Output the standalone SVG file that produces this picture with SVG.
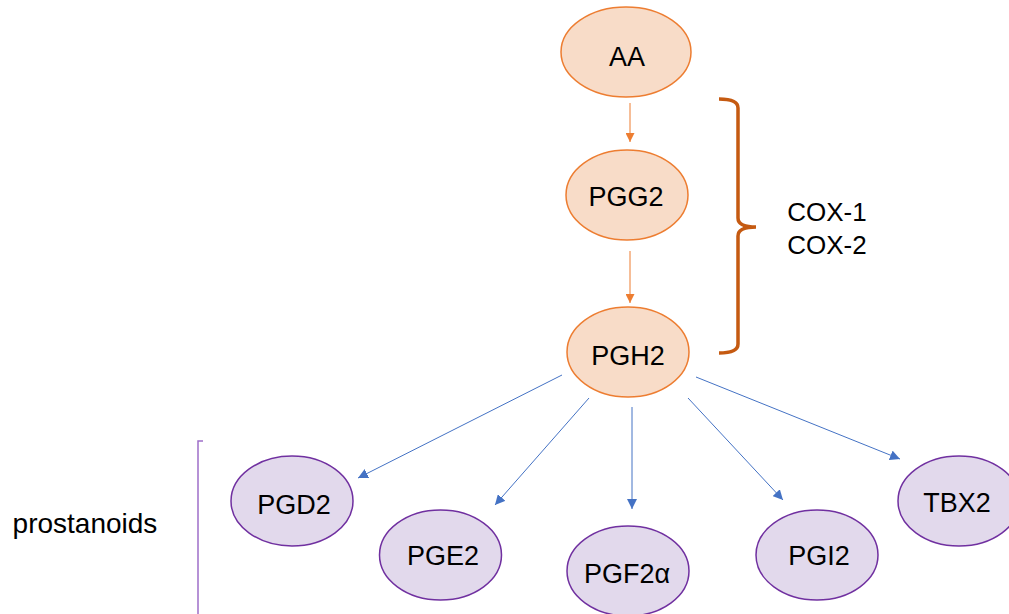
<svg xmlns="http://www.w3.org/2000/svg" width="1009" height="614" viewBox="0 0 1009 614">
<style>
.org{fill:#f8dcc8;stroke:#ed7d31;stroke-width:1.5}
.pur{fill:#e2d9ec;stroke:#7030a0;stroke-width:1.5}
text{font-family:"Liberation Sans",Arial,sans-serif;font-size:27px;fill:#000;text-anchor:middle}
.oa{stroke:#ed7d31;stroke-width:1;fill:none}
.ba{stroke:#4472c4;stroke-width:1;fill:none}
</style>
<defs>
<marker id="ho" viewBox="0 0 10 10" refX="10" refY="5" markerWidth="9" markerHeight="9" markerUnits="userSpaceOnUse" orient="auto"><path d="M0,0 L10,5 L0,10 z" fill="#ed7d31"/></marker>
<marker id="hb" viewBox="0 0 10 10" refX="10" refY="5" markerWidth="10" markerHeight="10" markerUnits="userSpaceOnUse" orient="auto"><path d="M0,0 L10,5 L0,10 z" fill="#4472c4"/></marker>
</defs>
<g id="connectors">
<line class="oa" x1="630" y1="103" x2="630" y2="142" marker-end="url(#ho)"/>
<line class="oa" x1="630" y1="251" x2="630" y2="303" marker-end="url(#ho)"/>
<line class="ba" x1="562" y1="375" x2="358" y2="478" marker-end="url(#hb)"/>
<line class="ba" x1="589" y1="398" x2="495" y2="505" marker-end="url(#hb)"/>
<line class="ba" x1="632" y1="407" x2="632" y2="509" marker-end="url(#hb)"/>
<line class="ba" x1="688" y1="398" x2="783" y2="500" marker-end="url(#hb)"/>
<line class="ba" x1="696" y1="377" x2="900" y2="459" marker-end="url(#hb)"/>
</g>
<g id="AA"><ellipse class="org" cx="626" cy="52" rx="65" ry="45"/><text x="627" y="66">AA</text></g>
<g id="PGG2"><ellipse class="org" cx="627" cy="195" rx="61" ry="45"/><text x="626" y="206">PGG2</text></g>
<g id="PGH2"><ellipse class="org" cx="628" cy="352" rx="61" ry="45"/><text x="628" y="365">PGH2</text></g>
<g id="cox-bracket"><path d="M719,99 Q738,99 738,108 L738,218 Q738,227 756,227 Q738,227 738,236 L738,344 Q738,353 719,353" fill="none" stroke="#c55a11" stroke-width="3.5"/></g>
<g id="cox-label"><text x="827" y="221" style="font-size:26px">COX-1</text><text x="827" y="254" style="font-size:26px">COX-2</text></g>
<g id="prostanoids-label"><text x="85" y="533" style="font-size:28px">prostanoids</text></g>
<g id="prostanoids-bracket"><path d="M203,441 L198,441 L198,614" fill="none" stroke="#9e6fc9" stroke-width="1.5"/></g>
<g id="PGD2"><ellipse class="pur" cx="292" cy="501" rx="61" ry="45"/><text x="294" y="514">PGD2</text></g>
<g id="PGE2"><ellipse class="pur" cx="440.5" cy="555" rx="61" ry="45"/><text x="443" y="565">PGE2</text></g>
<g id="PGF2a"><ellipse class="pur" cx="628" cy="571" rx="61" ry="45"/><text x="627" y="583">PGF2α</text></g>
<g id="PGI2"><ellipse class="pur" cx="817" cy="555" rx="61" ry="45"/><text x="819" y="565">PGI2</text></g>
<g id="TBX2"><ellipse class="pur" cx="959" cy="501" rx="61" ry="45"/><text x="957" y="512">TBX2</text></g>
</svg>
